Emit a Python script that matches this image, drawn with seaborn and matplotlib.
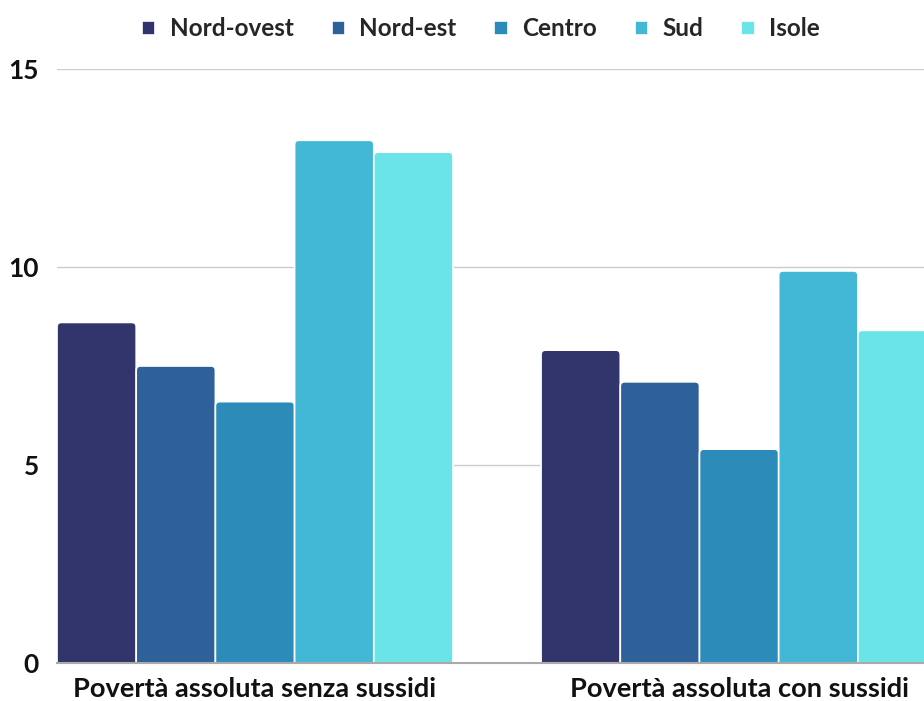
import matplotlib
matplotlib.use("Agg")
import matplotlib.pyplot as plt
from matplotlib.patches import FancyBboxPatch
import seaborn as sns
import pandas as pd

categories = ["Povertà assoluta senza sussidi", "Povertà assoluta con sussidi"]
regions = ["Nord-ovest", "Nord-est", "Centro", "Sud", "Isole"]
nord_ovest = [8.6, 7.9]
nord_est = [7.5, 7.1]
centro = [6.6, 5.4]
sud = [13.2, 9.9]
isole = [12.9, 8.4]
colors = ["#32356B", "#2E6199", "#2D8BBA", "#42B7D6", "#6BE4E8"]
y_ticks = [0, 5, 10, 15]

series = [nord_ovest, nord_est, centro, sud, isole]
df = pd.DataFrame(
    [(c, r, v[i]) for r, v in zip(regions, series) for i, c in enumerate(categories)],
    columns=["categoria", "area", "valore"],
)

sns.set_theme(style="white")
plt.rcParams["font.family"] = ["Lato", "DejaVu Sans"]

fig = plt.figure(figsize=(9.24, 7.01), dpi=100)
ax = fig.add_axes([57 / 924, 1 - 663 / 701, 1 - 57 / 924, (663 - 69) / 701])

sns.barplot(
    data=df, x="categoria", y="valore", hue="area", order=categories,
    hue_order=regions, palette=colors, width=0.818, saturation=1,
    edgecolor="white", linewidth=1.2, ax=ax, legend=True,
)

ax.set_xlim(-0.409, 1.382)
ax.set_ylim(0, 15)

# Rounded-top bars: y units per pixel divided by x units per pixel
aspect = (15 / 594) / (1.791 / 867)
for p in list(ax.patches):
    x, y = p.get_x(), p.get_y()
    w, h = p.get_width(), p.get_height()
    if h <= 0:
        continue
    fb = FancyBboxPatch(
        (x, y - 0.5), w, h + 0.5,
        boxstyle="round,pad=0,rounding_size=0.009",
        mutation_aspect=aspect,
        facecolor=p.get_facecolor(), edgecolor="white", linewidth=1.2,
        zorder=2,
    )
    ax.add_patch(fb)
    fb.set_clip_box(ax.bbox)
    p.set_visible(False)

ax.set_yticks(y_ticks)
ax.set_yticklabels([str(t) for t in y_ticks], fontsize=19, fontweight="bold", color="#111111")
ax.tick_params(axis="y", length=0, pad=13)
ax.tick_params(axis="x", length=0, pad=10)
for lbl in ax.get_xticklabels():
    lbl.set_fontsize(19.6)
    lbl.set_fontweight("bold")
    lbl.set_color("#111111")
ax.set_xlabel("")
ax.set_ylabel("")

ax.yaxis.grid(True, color="#CCCCCC", linewidth=1)
ax.set_axisbelow(True)
for s in ["top", "right", "left"]:
    ax.spines[s].set_visible(False)
ax.spines["bottom"].set_color("#AAAAAA")
ax.spines["bottom"].set_linewidth(1.5)
ax.spines["bottom"].set_zorder(3)

handles, labels = ax.get_legend_handles_labels()
ax.legend_.remove()
fig.legend(
    handles, labels, loc="center", bbox_to_anchor=(481 / 924, 1 - 29 / 701),
    ncol=5, frameon=False, handlelength=0.55, handleheight=0.55,
    handletextpad=0.6, columnspacing=1.55,
    prop={"size": 17.5, "weight": "bold"},
)

fig.savefig("out.png", dpi=100)
